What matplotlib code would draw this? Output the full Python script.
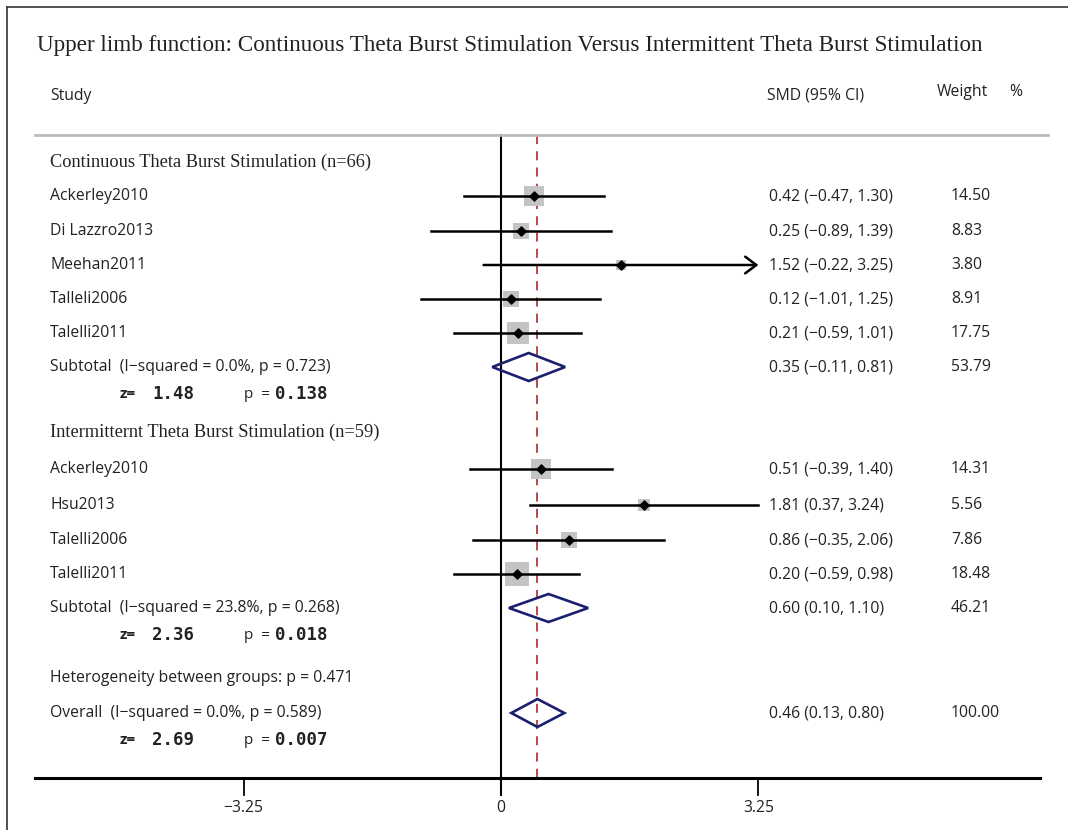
import matplotlib.pyplot as plt
from matplotlib.patches import Polygon, FancyArrowPatch
from matplotlib.transforms import blended_transform_factory
import numpy as np

# study data
studies1 = ['Ackerley2010', 'Di Lazzro2013', 'Meehan2011', 'Talleli2006', 'Talelli2011']
smd1 = [0.42, 0.25, 1.52, 0.12, 0.21]
lo1 = [-0.47, -0.89, -0.22, -1.01, -0.59]
hi1 = [1.30, 1.39, 3.25, 1.25, 1.01]
w1 = [14.50, 8.83, 3.80, 8.91, 17.75]

studies2 = ['Ackerley2010', 'Hsu2013', 'Talelli2006', 'Talelli2011']
smd2 = [0.51, 1.81, 0.86, 0.20]
lo2 = [-0.39, 0.37, -0.35, -0.59]
hi2 = [1.40, 3.24, 2.06, 0.98]
w2 = [14.31, 5.56, 7.86, 18.48]

# pooled estimates: (smd, lo, hi, weight)
sub1 = (0.35, -0.11, 0.81, 53.79)
sub2 = (0.60, 0.10, 1.10, 46.21)
overall = (0.46, 0.13, 0.80, 100.00)

ticks = [-3.25, 0, 3.25]
tick_labels = ['\u22123.25', '0', '3.25']

title = 'Upper limb function: Continuous Theta Burst Stimulation Versus Intermittent Theta Burst Stimulation'
group1 = 'Continuous Theta Burst Stimulation (n=66)'
group2 = 'Intermitternt Theta Burst Stimulation (n=59)'
sub1_label = 'Subtotal  (I\u2212squared = 0.0%, p = 0.723)'
sub2_label = 'Subtotal  (I\u2212squared = 23.8%, p = 0.268)'
het_label = 'Heterogeneity between groups: p = 0.471'
overall_label = 'Overall  (I\u2212squared = 0.0%, p = 0.589)'
zp1 = ('1.48', '0.138')
zp2 = ('2.36', '0.018')
zp3 = ('2.69', '0.007')

# row positions (pixel rows from top)
rows1 = [196, 231, 265, 299, 333]
rows2 = [469, 505, 540, 574]
y_sub1, y_sub2, y_all = 367, 608, 713

W, H = 1068, 830
x0_px, unit_px = 501, 79.2

fig = plt.figure(figsize=(W / 100, H / 100), dpi=100)
ax = fig.add_axes([0, 0, 1, 1])
ax.set_xlim(-x0_px / unit_px, (W - x0_px) / unit_px)
ax.set_ylim(H, 0)
ax.axis('off')
tr = blended_transform_factory(ax.transAxes, ax.transData)

def fx(px):
    return px / W

def dx(px):
    return (px - x0_px) / unit_px

txt = '#222222'
sans = ['Open Sans', 'DejaVu Sans']
serif = ['Liberation Serif', 'DejaVu Serif']
fs = 11.3

# frame (left and top only)
ax.plot([fx(7), fx(7)], [H, 7], transform=tr, color='#333333', lw=1.2, clip_on=False)
ax.plot([fx(7), 1], [7, 7], transform=tr, color='#333333', lw=1.2, clip_on=False)

ax.text(fx(37), 46, title, transform=tr, fontsize=16.7, family=serif, color=txt, va='center')
ax.text(fx(50), 96, 'Study', transform=tr, fontsize=fs, family=sans, color=txt, va='center')
ax.text(fx(767), 96, 'SMD (95% CI)', transform=tr, fontsize=fs, family=sans, color=txt, va='center')
ax.text(fx(937), 92, 'Weight', transform=tr, fontsize=fs, family=sans, color=txt, va='center')
ax.text(fx(1009), 92, '%', transform=tr, fontsize=fs, family=sans, color=txt, va='center')

ax.plot([fx(35), fx(1048)], [135, 135], transform=tr, color='#bbbbbb', lw=2)

# reference lines
ax.plot([0, 0], [135, 795], color='black', lw=1.5, zorder=1)
ax.plot([overall[0]] * 2, [135, 778], color='#b03a3a', lw=1.3, ls=(0, (5, 4)), zorder=1)

# bottom axis
ax.plot([dx(35), dx(1040)], [778, 778], color='black', lw=2.2)
for t, lab in zip(ticks, tick_labels):
    ax.plot([t, t], [778, 795], color='black', lw=1.3)
    ax.text(t, 808, lab, ha='center', va='center', fontsize=fs, family=sans, color=txt)

def ci_text(m, l, h):
    return f'{m:.2f} ({l:.2f}, {h:.2f})'.replace('-', '\u2212')

def study_rows(names, smd, lo, hi, w, rows):
    for n, m, l, h, wt, y in zip(names, smd, lo, hi, w, rows):
        ax.text(fx(50), y, n, transform=tr, fontsize=fs, family=sans, color=txt, va='center')
        ax.text(fx(769), y, ci_text(m, l, h), transform=tr, fontsize=fs, family=sans, color=txt, va='center')
        ax.text(fx(951), y, f'{wt:.2f}', transform=tr, fontsize=fs, family=sans, color=txt, va='center')
        side = 5.4 * np.sqrt(wt) * 0.72
        ax.scatter([m], [y], marker='s', s=side ** 2, color='#c4c4c4', zorder=2, linewidths=0)
        if n == 'Meehan2011':
            ax.add_patch(FancyArrowPatch((l, y), (h, y), arrowstyle='->,head_length=8,head_width=6',
                                         color='black', lw=1.8, zorder=3, shrinkA=0, shrinkB=0))
        else:
            ax.plot([l, h], [y, y], color='black', lw=1.8, zorder=3)
        ax.scatter([m], [y], marker='D', s=22, color='black', zorder=4)

def pooled(label, est, y, zp):
    m, l, h, wt = est
    ax.text(fx(50), y, label, transform=tr, fontsize=fs, family=sans, color=txt, va='center')
    ax.text(fx(769), y, ci_text(m, l, h), transform=tr, fontsize=fs, family=sans, color=txt, va='center')
    ax.text(fx(951), y, f'{wt:.2f}', transform=tr, fontsize=fs, family=sans, color=txt, va='center')
    ax.add_patch(Polygon([(l, y), (m, y - 14), (h, y), (m, y + 14)], closed=True,
                         fill=False, edgecolor='#1a1f6e', lw=1.9, zorder=3))
    yz = y + 27
    ax.text(fx(120), yz, 'z=', transform=tr, fontsize=11, family=sans, weight='bold', color=txt, va='center')
    ax.text(fx(152), yz, zp[0], transform=tr, fontsize=12.5, family='DejaVu Sans Mono',
            weight='bold', color=txt, va='center')
    ax.text(fx(244), yz, 'p  =', transform=tr, fontsize=11, family=sans, color=txt, va='center')
    ax.text(fx(275), yz, zp[1], transform=tr, fontsize=12.5, family='DejaVu Sans Mono',
            weight='bold', color=txt, va='center')

ax.text(fx(50), 162, group1, transform=tr, fontsize=13.2, family=serif, color=txt, va='center')
study_rows(studies1, smd1, lo1, hi1, w1, rows1)
pooled(sub1_label, sub1, y_sub1, zp1)

ax.text(fx(50), 432, group2, transform=tr, fontsize=13.2, family=serif, color=txt, va='center')
study_rows(studies2, smd2, lo2, hi2, w2, rows2)
pooled(sub2_label, sub2, y_sub2, zp2)

ax.text(fx(50), 678, het_label, transform=tr, fontsize=fs, family=sans, color=txt, va='center')
pooled(overall_label, overall, y_all, zp3)

fig.savefig('out.png', dpi=100)
